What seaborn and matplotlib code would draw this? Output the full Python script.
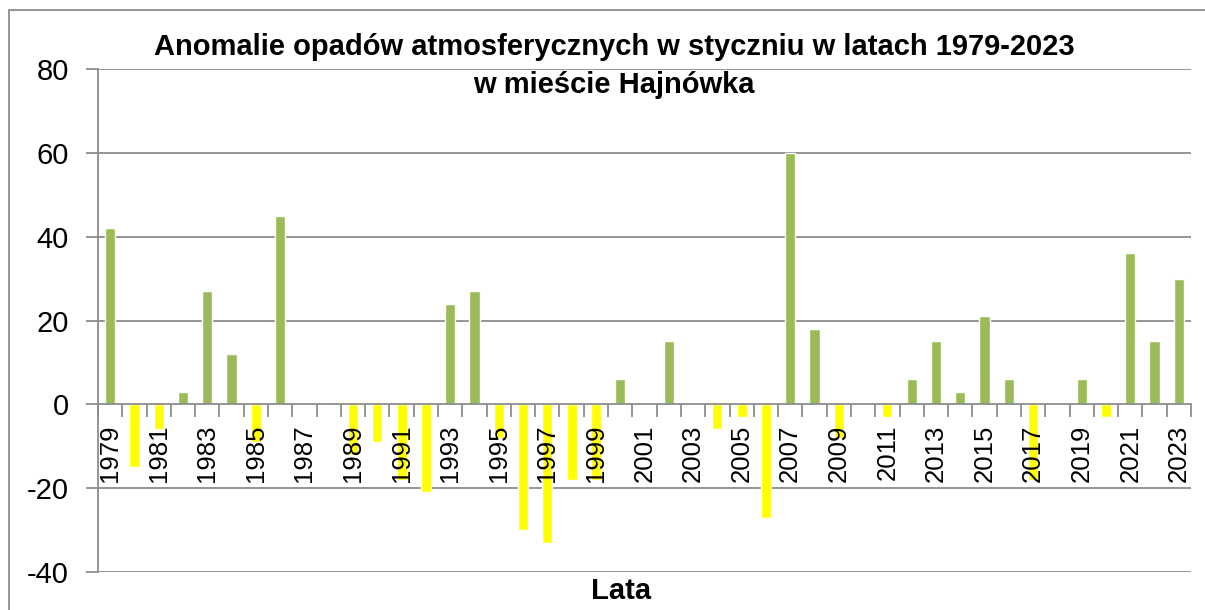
import matplotlib
matplotlib.use("Agg")
import matplotlib.pyplot as plt
import seaborn as sns
import pandas as pd
from matplotlib.patches import Rectangle

sns.set_style("white")
plt.rcParams['font.family'] = ['Liberation Sans', 'DejaVu Sans']
plt.rcParams['text.color'] = 'black'
plt.rcParams['xtick.color'] = 'black'
plt.rcParams['ytick.color'] = 'black'

# anomalie opadów w styczniu (mm)
years = list(range(1979, 2024))
anomalies = [42, -15, -6, 3, 27, 12, -9, 45, 0, 0,
             -12, -9, -18, -21, 24, 27, -8, -30, -33, -18,
             -18, 6, 0, 15, 0, -6, -3, -27, 60, 18,
             -8, 0, -3, 6, 15, 3, 21, 6, -18, 0,
             6, -3, 36, 15, 30]
y_ticks = [-40, -20, 0, 20, 40, 60, 80]

title_line1 = "Anomalie opadów atmosferycznych w styczniu w latach 1979-2023"
title_line2 = "w mieście Hajnówka"
x_label = "Lata"

green = "#9BBB59"
yellow = "#FFFF00"
grid_col = "#8C8C8C"

df = pd.DataFrame({"rok": [str(y) for y in years], "anomalia": anomalies})
df["znak"] = ["plus" if v >= 0 else "minus" for v in anomalies]

fig = plt.figure(figsize=(12.05, 6.1), dpi=100)
ax = fig.add_axes([98 / 1205, 38 / 610, (1191 - 98) / 1205, (572 - 69) / 610])

sns.barplot(data=df, x="rok", y="anomalia", hue="znak",
            palette={"plus": green, "minus": yellow},
            dodge=False, width=0.42, legend=False, ax=ax, saturation=1)

ax.set_ylim(-40, 80)
ax.set_xlim(-0.5, len(years) - 0.5)
ax.set_yticks(y_ticks)
ax.set_yticklabels([str(t) for t in y_ticks], fontsize=21)
for t in y_ticks:
    if t != 0:
        ax.axhline(t, color=grid_col, lw=1.3, zorder=0)

# oś X na wysokości zera, podpisy lat nad słupkami
ax.set_axisbelow(False)
ax.spines['bottom'].set_position(('data', 0))
ax.spines['bottom'].set_color(grid_col)
ax.spines['bottom'].set_linewidth(1.3)
ax.spines['left'].set_color(grid_col)
ax.spines['left'].set_linewidth(1.3)
ax.spines['top'].set_visible(False)
ax.spines['right'].set_visible(False)

pos = list(range(0, len(years), 2))
ax.set_xticks(pos)
ax.set_xticklabels([str(years[i]) for i in pos], rotation=90, fontsize=18.5,
                   va='top', ha='center')
ax.set_xticks([i - 0.5 for i in range(len(years) + 1)], minor=True)
ax.tick_params(axis='x', which='major', length=0, pad=14.5)
ax.tick_params(axis='x', which='minor', length=9, width=1.3, color=grid_col,
               direction='out', bottom=True)
ax.tick_params(axis='y', length=9, width=1.3, color=grid_col, direction='out',
               left=True, pad=12, labelcolor='black')
ax.tick_params(axis='x', labelcolor='black')
ax.set_xlabel("")
ax.set_ylabel("")

fig.text(614 / 1205, 1 - 47 / 610, title_line1, ha='center', va='center',
         fontsize=21, fontweight='bold')
fig.text(614 / 1205, 1 - 85 / 610, title_line2, ha='center', va='center',
         fontsize=21, fontweight='bold')
fig.text(621 / 1205, 1 - 591 / 610, x_label, ha='center', va='center',
         fontsize=21, fontweight='bold')

# ramka wokół całego wykresu
fig.add_artist(Rectangle((9 / 1205, -0.1), 1.2, 1.1 - 10 / 610,
                         transform=fig.transFigure, fill=False,
                         edgecolor=grid_col, lw=1.3))

fig.savefig("out.png", dpi=100)
